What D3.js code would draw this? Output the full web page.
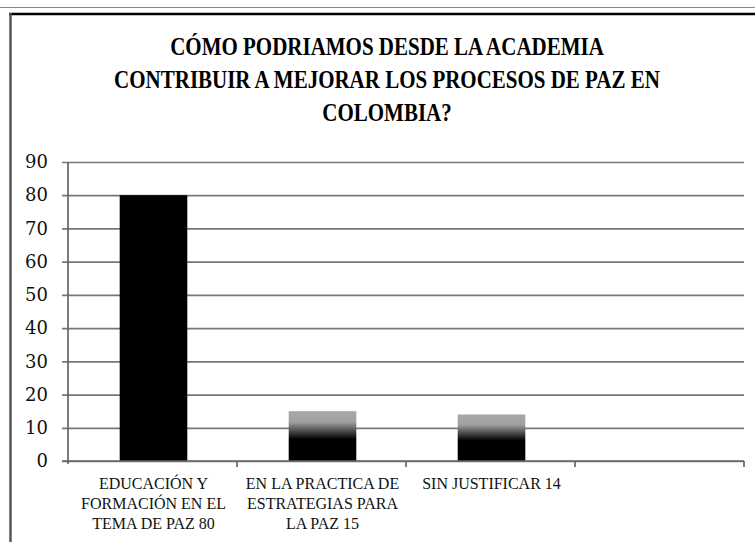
<!DOCTYPE html>
<html>
<head>
<meta charset="utf-8">
<script src="https://cdn.jsdelivr.net/npm/d3@7"></script>
<style>
  html, body { margin: 0; padding: 0; background: #fff; }
  svg { display: block; }
</style>
</head>
<body>
<svg id="chart" width="755" height="542"></svg>
<script>
// ---- data ----
const titleLines = [
  "CÓMO PODRIAMOS DESDE LA ACADEMIA",
  "CONTRIBUIR A MEJORAR LOS PROCESOS DE PAZ EN",
  "COLOMBIA?"
];
const categories = ["cat1", "cat2", "cat3", "cat4"];
const categoryLabels = [
  ["EDUCACIÓN Y", "FORMACIÓN EN EL", "TEMA DE PAZ 80"],
  ["EN LA PRACTICA DE", "ESTRATEGIAS PARA", "LA PAZ 15"],
  ["SIN JUSTIFICAR 14"],
  []
];
const values = [80, 15, 14, null];
const yTicks = [0, 10, 20, 30, 40, 50, 60, 70, 80, 90];

// ---- layout ----
const svg = d3.select("#chart");
const plot = { left: 68, right: 744, top: 162, bottom: 461 };

// frame
svg.append("line").attr("x1", 0).attr("x2", 755).attr("y1", 7.5).attr("y2", 7.5)
  .attr("stroke", "#8a8a8a").attr("stroke-width", 1);
svg.append("line").attr("x1", 9).attr("x2", 755).attr("y1", 14).attr("y2", 14)
  .attr("stroke", "#000").attr("stroke-width", 2.5);
svg.append("line").attr("x1", 10.5).attr("x2", 10.5).attr("y1", 13).attr("y2", 542)
  .attr("stroke", "#555").attr("stroke-width", 2.5);

// title
svg.append("g").selectAll("text").data(titleLines).join("text")
  .attr("transform", (d, i) => `translate(387,${55 + i * 33}) scale(1,1.15)`)
  .attr("text-anchor", "middle")
  .attr("font-family", "'Liberation Serif', 'Times New Roman', serif")
  .attr("font-weight", "bold").attr("font-size", 21).attr("fill", "#000")
  .text(d => d);

const y = d3.scaleLinear().domain([0, 90]).range([plot.bottom, plot.top]);
const x = d3.scaleBand().domain(categories).range([plot.left, plot.right]).padding(0);

// gridlines + y labels
const yAxis = d3.axisLeft(y).tickValues(yTicks).tickSize(-(plot.right - plot.left + 6)).tickPadding(14);
const gy = svg.append("g").attr("transform", `translate(${plot.left - 6},0)`).call(yAxis);
gy.select(".domain").remove();
gy.selectAll(".tick line").attr("stroke", "#777").attr("stroke-width", 1.7);
gy.selectAll(".tick text")
  .attr("font-family", "'DejaVu Serif', serif").attr("font-size", 18).attr("fill", "#111");

// gradient for bars
const defs = svg.append("defs");
const grad = defs.append("linearGradient").attr("id", "barGrad")
  .attr("x1", 0).attr("y1", 0).attr("x2", 0).attr("y2", 1);
grad.append("stop").attr("offset", "0%").attr("stop-color", "#a8a8a8");
grad.append("stop").attr("offset", "22%").attr("stop-color", "#a0a0a0");
grad.append("stop").attr("offset", "56%").attr("stop-color", "#000");
grad.append("stop").attr("offset", "100%").attr("stop-color", "#000");

// bars
const barW = x.bandwidth() * 0.4;
const barData = categories.map((c, i) => ({ c, v: values[i], i })).filter(d => d.v != null);
svg.append("g").selectAll("rect").data(barData).join("rect")
  .attr("x", d => x(d.c) + (x.bandwidth() - barW) / 2 + 1)
  .attr("y", d => y(d.v))
  .attr("width", barW)
  .attr("height", d => y(0) - y(d.v))
  .attr("fill", d => d.i === 0 ? "#000" : "url(#barGrad)");

// y axis line
svg.append("line").attr("x1", plot.left).attr("x2", plot.left)
  .attr("y1", y(90)).attr("y2", y(0) + 3)
  .attr("stroke", "#666").attr("stroke-width", 1.7);

// x axis line + ticks
svg.append("line").attr("x1", plot.left - 6).attr("x2", plot.right)
  .attr("y1", y(0)).attr("y2", y(0))
  .attr("stroke", "#666").attr("stroke-width", 1.7);
const xTickPos = categories.slice(1).map(c => x(c)).concat([plot.right]);
svg.append("g").selectAll("line").data(xTickPos).join("line")
  .attr("x1", d => d).attr("x2", d => d)
  .attr("y1", y(0)).attr("y2", y(0) + 6)
  .attr("stroke", "#666").attr("stroke-width", 1.7);

// category labels
const cl = svg.append("g");
categories.forEach((c, i) => {
  cl.append("text")
    .attr("text-anchor", "middle")
    .attr("font-family", "'Liberation Serif', 'Times New Roman', serif")
    .attr("font-size", 16).attr("fill", "#111")
    .selectAll("tspan").data(categoryLabels[i]).join("tspan")
    .attr("x", x(c) + x.bandwidth() / 2 + 1)
    .attr("y", (d, j) => 489 + j * 20)
    .text(d => d);
});
</script>
</body>
</html>
